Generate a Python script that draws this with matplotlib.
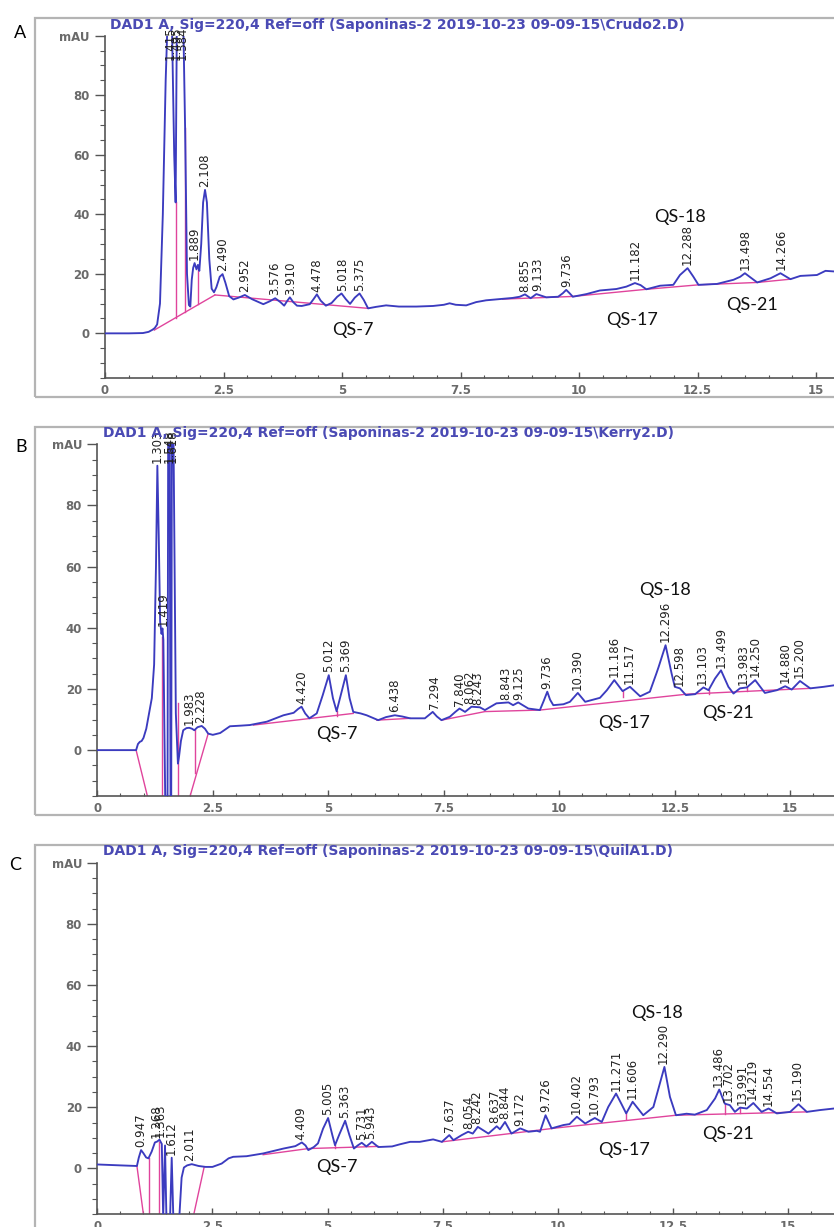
import matplotlib
matplotlib.use("Agg")
import matplotlib.pyplot as plt
from matplotlib.patches import Rectangle
from matplotlib.ticker import MultipleLocator

W, H = 834, 1227
BLUE = "#3b3bbf"
PINK = "#e0449c"
TITLE_BLUE = "#4a4ab4"
AXC = "#555555"
NARROW = ["Liberation Sans Narrow", "DejaVu Sans"]

# ---------------- panel A : Crudo2 ----------------
a_rt = [0, 0.5, 0.8, 0.92, 1.0, 1.05, 1.10, 1.16, 1.22, 1.28, 1.33, 1.40, 1.46, 1.49,
        1.52, 1.58, 1.64, 1.69, 1.73, 1.77, 1.80, 1.83, 1.86, 1.89, 1.93, 1.96, 1.99,
        2.03, 2.07, 2.11, 2.15, 2.20, 2.25, 2.30, 2.35, 2.42, 2.48, 2.54, 2.62, 2.71,
        2.82, 2.95, 3.10, 3.34, 3.48, 3.59, 3.70, 3.78, 3.84, 3.90, 3.97, 4.05, 4.15,
        4.32, 4.40, 4.47, 4.55, 4.66, 4.78, 4.90, 4.99, 5.08, 5.17, 5.27, 5.37, 5.46,
        5.55, 5.72, 5.93, 6.20, 6.57, 6.92, 7.15, 7.27, 7.40, 7.62, 7.83, 8.04, 8.32,
        8.60, 8.75, 8.86, 8.98, 9.10, 9.31, 9.56, 9.66, 9.73, 9.80, 9.87, 10.16, 10.44,
        10.79, 11.00, 11.18, 11.30, 11.42, 11.71, 11.99, 12.13, 12.29, 12.41, 12.52,
        12.91, 13.26, 13.40, 13.50, 13.60, 13.76, 14.04, 14.25, 14.46, 14.67, 15.02,
        15.20, 15.38]
a_mau = [0, 0, 0.1, 0.5, 1.2, 1.8, 3, 10, 40, 85, 110, 115, 60, 44,
         115, 115, 115, 69, 20, 9.5, 9, 18, 22, 23.6, 21.5, 23, 21,
         30, 44, 48.2, 44, 25, 15, 13.8, 15.5, 19, 19.9, 17, 12.5, 11.4,
         12, 12.9, 11.5, 9.8, 10.8, 11.8, 10.5, 9.3, 10.8, 12.1, 10.5, 9.3, 9.2,
         9.8, 11.5, 13.1, 11, 9.3, 10.2, 12.3, 13.4, 11.5, 9.9, 12, 13.4, 11.2,
         8.4, 8.9, 9.4, 9.0, 9.0, 9.2, 9.6, 10.1, 9.6, 9.4, 10.5, 11.1, 11.5,
         11.9, 12.3, 13.1, 11.8, 13.2, 12.1, 12.3, 13.5, 14.6, 13.5, 12.3, 13.2, 14.4,
         14.9, 15.7, 16.9, 16.2, 14.8, 16.0, 16.3, 19.6, 21.9, 19.1, 16.3,
         16.6, 18.0, 19.0, 20.2, 19.0, 17.1, 18.5, 20.2, 18.2, 19.3, 19.6,
         21.0, 20.8]
a_base = [[(1.04, 1.1), (2.32, 12.9)],
          [(2.32, 12.9), (5.55, 8.4)],
          [(8.39, 11.5), (9.87, 12.4), (11.42, 14.8), (12.52, 16.3), (13.76, 17.1), (14.46, 18.2)]]
a_drops = [(1.49, 44, 5.3), (1.69, 69, 7.1), (1.97, 22, 9.7)]
a_labels = ["1.415", "1.495", "1.584", "1.889", "2.108", "2.490", "2.952", "3.576", "3.910",
            "4.478", "5.018", "5.375", "8.855", "9.133", "9.736", "11.182", "12.288",
            "13.498", "14.266"]
a_label_rt = [1.37, 1.50, 1.63, 1.889, 2.108, 2.490, 2.952, 3.576, 3.910, 4.478, 5.018,
              5.375, 8.855, 9.133, 9.736, 11.182, 12.288, 13.498, 14.266]
a_label_h = [91, 91, 91, 23.6, 48.2, 19.9, 12.9, 11.8, 12.1, 13.1, 13.4, 13.4, 13.1,
             13.2, 14.6, 16.9, 21.9, 20.2, 20.2]
a_qs = [("QS-7", 5.23, 1.1), ("QS-18", 12.13, 39.2), ("QS-17", 11.11, 4.5), ("QS-21", 13.66, 9.5)]
a_title = "DAD1 A, Sig=220,4 Ref=off (Saponinas-2 2019-10-23 09-09-15\\Crudo2.D)"

# ---------------- panel B : Kerry2 ----------------
b_rt = [0, 0.5, 0.84, 0.88, 0.92, 0.96, 1.00, 1.06, 1.12, 1.18, 1.23, 1.27, 1.30, 1.33,
        1.36, 1.39, 1.41, 1.43, 1.47, 1.52, 1.535, 1.565, 1.585, 1.60, 1.615, 1.645, 1.70,
        1.745, 1.77, 1.81, 1.86, 1.93, 1.99, 2.05, 2.10, 2.17, 2.26, 2.33, 2.40, 2.50,
        2.66, 2.87, 3.10, 3.30, 3.67, 4.03, 4.25, 4.35, 4.42, 4.50, 4.59, 4.75, 4.88,
        5.01, 5.10, 5.18, 5.27, 5.38, 5.46, 5.54, 5.70, 5.83, 6.08, 6.25, 6.44, 6.60,
        6.77, 7.09, 7.18, 7.26, 7.35, 7.45, 7.63, 7.75, 7.84, 7.96, 8.10, 8.28, 8.39,
        8.64, 8.90, 9.00, 9.11, 9.33, 9.58, 9.66, 9.74, 9.80, 9.87, 10.09, 10.23, 10.40,
        10.56, 10.88, 11.03, 11.19, 11.37, 11.53, 11.75, 11.96, 12.10, 12.15, 12.30,
        12.43, 12.50, 12.61, 12.74, 12.94, 13.12, 13.23, 13.37, 13.50, 13.66, 13.77,
        13.91, 14.06, 14.24, 14.45, 14.71, 14.89, 15.03, 15.21, 15.43, 15.72, 15.95]
b_mau = [0, 0, 0, 2.0, 2.7, 3.0, 4, 7, 12, 17, 28, 60, 93, 70,
         42, 38, 39.8, 36, -16, -16, 110, 110, -16, -16, 110, 110, 12,
         -4.4, -2, 3, 6.5, 7.2, 7.3, 7.0, 6.5, 7.5, 7.9, 7.0, 5.4, 5.0,
         5.6, 7.8, 8.0, 8.2, 9.3, 11.4, 12.2, 13.5, 14.2, 12, 10.4, 12.0, 18,
         24.5, 17, 12.7, 18, 24.5, 17, 12.5, 12.0, 11.4, 9.8, 10.8, 11.4, 11.0,
         10.4, 10.4, 11.5, 12.5, 11, 9.8, 10.9, 12.5, 13.6, 12.5, 14.2, 14.0, 13.1,
         15.3, 15.6, 14.7, 15.6, 13.6, 13.1, 16, 19.1, 16.5, 14.7, 15.0, 15.8, 18.7,
         15.8, 17.1, 19.6, 22.9, 19.3, 20.7, 17.6, 19.1, 25, 27.2, 34.3,
         25.1, 20.7, 20.2, 18.0, 18.3, 20.5, 19.6, 23.4, 26.1, 20.7, 18.5,
         20.2, 20.5, 22.9, 18.7, 19.6, 20.9, 19.8, 22.6, 20.2, 20.7, 21.2]
b_base = [[(0.84, 0), (1.10, -16)],
          [(1.99, -16), (2.40, 5.4)],
          [(3.38, 8.2), (5.54, 12.0)],
          [(6.05, 9.8), (6.77, 10.4)],
          [(7.45, 9.8), (8.39, 12.6), (9.58, 13.1)],
          [(9.58, 13.1), (12.76, 18.3), (15.43, 20.2)]]
b_drops = [(1.39, 37, -16), (1.74, 15.3, -16), (2.11, 6.5, -7.5), (5.18, 12.7, 11.0),
           (11.37, 19.3, 17.3), (13.23, 19.6, 18.5), (14.06, 20.5, 19.2)]
b_labels = ["1.303", "1.548", "1.618", "1.419", "1.983", "2.228", "4.420", "5.012", "5.369",
            "6.438", "7.294", "7.840", "8.062", "8.243", "8.843", "9.125", "9.736", "10.390",
            "11.186", "11.517", "12.296", "12.598", "13.103", "13.499", "13.983", "14.250",
            "14.880", "15.200"]
b_label_rt = [1.303, 1.548, 1.630, 1.419, 1.983, 2.228, 4.420, 5.012, 5.369, 6.438, 7.294,
              7.840, 8.062, 8.243, 8.843, 9.125, 9.736, 10.390, 11.186, 11.517, 12.296,
              12.598, 13.103, 13.499, 13.983, 14.250, 14.880, 15.200]
b_label_h = [93, 93, 93, 39.8, 7.3, 7.9, 14.2, 24.5, 24.5, 11.4, 12.5, 13.6, 14.2, 14.0,
             15.6, 15.6, 19.1, 18.7, 22.9, 20.7, 34.3, 20.2, 20.5, 26.1, 20.5, 22.9,
             20.9, 22.6]
b_qs = [("QS-7", 5.18, 5.4), ("QS-18", 12.29, 52.3), ("QS-17", 11.41, 8.9), ("QS-21", 13.66, 12.0)]
b_title = "DAD1 A, Sig=220,4 Ref=off (Saponinas-2 2019-10-23 09-09-15\\Kerry2.D)"

# ---------------- panel C : QuilA1 ----------------
c_rt = [0, 0.5, 0.86, 0.90, 0.95, 1.00, 1.06, 1.11, 1.18, 1.25, 1.30, 1.35, 1.40, 1.43,
        1.47, 1.50, 1.58, 1.615, 1.65, 1.78, 1.83, 1.88, 1.95, 2.05, 2.20, 2.35, 2.50,
        2.70, 2.85, 2.95, 3.24, 3.60, 4.04, 4.30, 4.44, 4.52, 4.58, 4.70, 4.79, 4.90,
        5.01, 5.10, 5.16, 5.25, 5.38, 5.47, 5.57, 5.65, 5.74, 5.84, 5.96, 6.10, 6.40,
        6.57, 6.79, 7.00, 7.29, 7.48, 7.64, 7.73, 7.91, 8.05, 8.15, 8.26, 8.49, 8.67,
        8.74, 8.85, 8.99, 9.18, 9.36, 9.54, 9.61, 9.73, 9.86, 10.12, 10.25, 10.41, 10.59,
        10.80, 10.95, 11.09, 11.26, 11.38, 11.48, 11.62, 11.85, 12.07, 12.16, 12.31,
        12.43, 12.56, 12.79, 12.97, 13.23, 13.41, 13.50, 13.62, 13.73, 13.84, 13.95,
        14.10, 14.24, 14.42, 14.57, 14.75, 15.04, 15.22, 15.40, 15.69, 15.99]
c_mau = [1.3, 1.0, 0.8, 3.5, 6.0, 5.0, 3.6, 3.3, 5.5, 8.5, 8.8, 9.4, 8.0, -16,
         7.5, -16, -16, 3.5, -16, -16, -3, 0.3, 1.0, 1.4, 0.8, 0.5, 0.5,
         1.6, 3.3, 3.8, 4.0, 4.9, 6.5, 7.3, 8.5, 7.5, 6.0, 7.0, 8.2, 13,
         16.5, 11, 7.6, 11, 15.6, 11, 6.5, 7.5, 8.4, 7.2, 8.7, 7.0, 7.2,
         7.9, 8.7, 8.7, 9.5, 8.7, 10.9, 9.25, 10.9, 12.0, 11.4, 13.6, 11.4, 13.8,
         12.8, 15.2, 11.4, 13.1, 12.0, 12.3, 12.0, 17.4, 13.1, 14.2, 14.5, 16.9, 14.7,
         16.5, 15.2, 20.1, 24.5, 21, 18.0, 21.8, 17.4, 20.1, 25.0, 33.2,
         23.4, 17.4, 17.9, 17.6, 19.1, 22.9, 25.8, 21.2, 20.7, 18.5, 19.9,
         19.6, 21.4, 18.5, 19.6, 18.0, 18.5, 21.0, 18.5, 19.1, 19.6]
c_base = [[(0.86, 0.8), (1.01, -16)],
          [(2.08, -16), (2.32, 0.5)],
          [(3.60, 4.5), (4.58, 6.5), (6.10, 7.2)],
          [(7.48, 8.7), (10.0, 13.3), (12.56, 17.4), (15.40, 18.5)]]
c_drops = [(1.12, 3.3, -16), (1.33, 8.7, -16), (11.48, 18.0, 16.2), (13.62, 21.2, 17.9),
           (13.95, 19.9, 18.0), (5.16, 7.6, 6.6)]
c_labels = ["0.947", "1.268", "1.363", "1.612", "2.011", "4.409", "5.005", "5.363", "5.731",
            "5.943", "7.637", "8.054", "8.242", "8.637", "8.844", "9.172", "9.726", "10.402",
            "10.793", "11.271", "11.606", "12.290", "13.486", "13.702", "13.991", "14.219",
            "14.554", "15.190"]
c_label_rt = [0.947, 1.268, 1.363, 1.612, 2.011, 4.409, 5.005, 5.363, 5.731, 5.943, 7.637,
              8.054, 8.242, 8.637, 8.844, 9.172, 9.726, 10.402, 10.793, 11.271, 11.606,
              12.290, 13.486, 13.702, 13.991, 14.219, 14.554, 15.190]
c_label_h = [6.0, 9.0, 9.4, 3.5, 1.4, 8.5, 16.5, 15.6, 8.4, 8.7, 10.9, 12.0, 13.6, 13.8,
             15.2, 13.1, 17.4, 16.9, 16.5, 24.5, 21.8, 33.2, 25.8, 20.7, 19.9, 21.4,
             19.6, 21.0]
c_qs = [("QS-7", 5.20, 0.5), ("QS-18", 12.14, 50.9), ("QS-17", 11.43, 6.0), ("QS-21", 13.70, 11.4)]
c_title = "DAD1 A, Sig=220,4 Ref=off (Saponinas-2 2019-10-23 09-09-15\\QuilA1.D)"


fig = plt.figure(figsize=(W / 100, H / 100), dpi=100)
fig.patch.set_facecolor("white")


def px_rect(x0, y0, x1, y1):
    # pixel box (top-left origin) -> figure fraction rect
    return [x0 / W, 1 - y1 / H, (x1 - x0) / W, (y1 - y0) / H]


def draw_panel(box, frame, letter, title, rt, mau, base, drops, labels, lab_rt, lab_h, qs):
    # grey frame of the screenshot
    fx0, fy0, fy1 = frame
    fig.add_artist(Rectangle((fx0 / W, 1 - fy1 / H), (W + 20 - fx0) / W, (fy1 - fy0) / H,
                             transform=fig.transFigure, fill=False, ec="#b4b4b4", lw=1.6))
    fig.text(letter[1] / W, 1 - letter[2] / H, letter[0], fontsize=13, family="Lato",
             ha="center", va="center")
    fig.text(title[1] / W, 1 - title[2] / H, title[0], fontsize=10, fontweight="bold",
             color=TITLE_BLUE, ha="left", va="center")

    x0, y0, x1, y1, xmax = box
    ax = fig.add_axes(px_rect(x0, y0, x1, y1))
    ax.plot(rt, mau, color=BLUE, lw=1.35, zorder=3)
    for seg in base:
        xs, ys = zip(*seg)
        ax.plot(xs, ys, color=PINK, lw=1.0, zorder=2)
    for x, ya, yb in drops:
        ax.plot([x, x], [ya, yb], color=PINK, lw=1.0, zorder=2)
    for lab, x, h in zip(labels, lab_rt, lab_h):
        ax.annotate(lab, (x, h), xytext=(0, 2), textcoords="offset points", rotation=90,
                    ha="center", va="bottom", fontsize=8.5, family=NARROW, color="#222222",
                    zorder=4)
    for txt, x, y in qs:
        ax.text(x, y, txt, ha="center", va="center", fontsize=13, family="Lato", color="#111111")

    ax.set_xlim(0, xmax)
    ax.set_ylim(-15, 100)
    for s in ("top", "right"):
        ax.spines[s].set_visible(False)
    for s in ("left", "bottom"):
        ax.spines[s].set_color(AXC)
        ax.spines[s].set_linewidth(1.2)
    ax.set_yticks([0, 20, 40, 60, 80, 100])
    ax.set_yticklabels(["0", "20", "40", "60", "80", "mAU"])
    ax.yaxis.set_minor_locator(MultipleLocator(5))
    ax.set_xticks([0, 2.5, 5, 7.5, 10, 12.5, 15])
    ax.set_xticklabels(["0", "2.5", "5", "7.5", "10", "12.5", "15"])
    ax.xaxis.set_minor_locator(MultipleLocator(0.5))
    ax.tick_params(axis="y", which="major", direction="out", length=7, width=1, color=AXC, pad=4)
    ax.tick_params(axis="y", which="minor", direction="out", length=3.5, width=0.8, color=AXC)
    ax.tick_params(axis="x", which="major", direction="in", length=4, width=1, color=AXC, pad=4)
    ax.tick_params(axis="x", which="minor", direction="in", length=2.5, width=0.8, color=AXC)
    for t in ax.get_xticklabels() + ax.get_yticklabels():
        t.set_fontsize(8.5)
        t.set_fontweight("bold")
        t.set_color("#6a6a6a")
    return ax


draw_panel((105, 35.7, W, 378, (W - 105) / 47.4), (35, 18, 397), ("A", 20, 33),
           (a_title, 110, 25), a_rt, a_mau, a_base, a_drops, a_labels, a_label_rt, a_label_h, a_qs)
draw_panel((97.3, 444.3, W, 796, (W - 97.3) / 46.2), (35, 427, 815), ("B", 21, 447),
           (b_title, 103, 433), b_rt, b_mau, b_base, b_drops, b_labels, b_label_rt, b_label_h, b_qs)
draw_panel((97.3, 862.7, W, 1214.3, (W - 97.3) / 46.07), (35, 845, 1260), ("C", 15, 865),
           (c_title, 103, 851), c_rt, c_mau, c_base, c_drops, c_labels, c_label_rt, c_label_h, c_qs)

fig.savefig("out.png", dpi=100)
